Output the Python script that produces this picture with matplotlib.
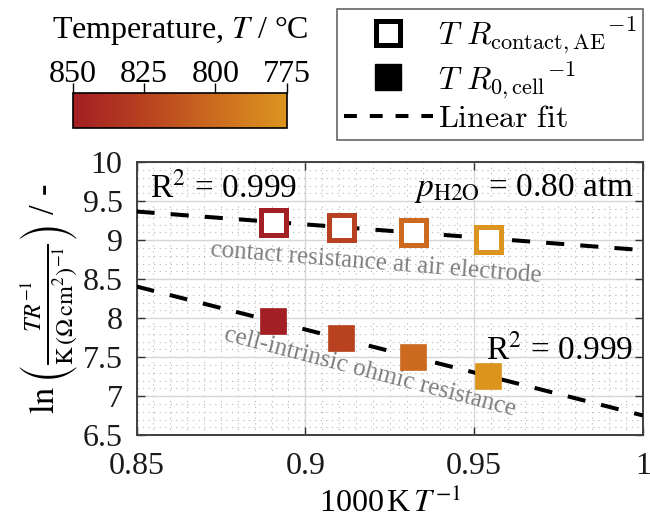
import numpy as np
import matplotlib
matplotlib.use("Agg")
import matplotlib.pyplot as plt
from matplotlib.colors import LinearSegmentedColormap, Normalize
from matplotlib.cm import ScalarMappable
from matplotlib.lines import Line2D
from matplotlib.font_manager import FontProperties
from matplotlib.ticker import MultipleLocator, FuncFormatter

plt.rcParams["font.family"] = ["Liberation Serif", "DejaVu Serif"]
plt.rcParams["mathtext.fontset"] = "stix"

# Operating temperatures and measured quantities
temperatures_C = [850, 825, 800, 775]
ln_TR_contact = [9.23, 9.17, 9.10, 9.02]
ln_TR_ohmic = [7.96, 7.74, 7.50, 7.26]
cbar_ticks = [850, 825, 800, 775]
x_ticks = [0.85, 0.9, 0.95, 1.0]
y_ticks = [6.5, 7, 7.5, 8, 8.5, 9, 9.5, 10]

inv_T = 1000.0 / (np.array(temperatures_C) + 273.15)

cmap = LinearSegmentedColormap.from_list(
    "temp", ["#db941e", "#cc6b1f", "#b8411f", "#a21f24"])
norm = Normalize(vmin=775, vmax=850)
colors = [cmap(norm(t)) for t in temperatures_C]

fs = 23
fig = plt.figure(figsize=(6.5, 5.23), dpi=100)
ax = fig.add_axes([0.210, 0.168, 0.779, 0.522])

# Linear fits over the full axis range
xfit = np.array([0.85, 1.0])
dash = (4.5, 4.0)
for yvals in (ln_TR_contact, ln_TR_ohmic):
    p = np.polyfit(inv_T, yvals, 1)
    ax.plot(xfit, np.polyval(p, xfit), color="black", lw=2.9,
            dashes=dash, zorder=3)

for xi, yi, c in zip(inv_T, ln_TR_contact, colors):
    ax.plot(xi, yi, marker="s", ms=18, mfc="white", mec=c, mew=3.6,
            ls="none", zorder=4)
for xi, yi, c in zip(inv_T, ln_TR_ohmic, colors):
    ax.plot(xi, yi, marker="s", ms=19, mfc=c, mec=c, mew=0.5,
            ls="none", zorder=4)

ax.set_xlim(0.85, 1.0)
ax.set_ylim(6.5, 10)
ax.set_xticks(x_ticks)
ax.set_yticks(y_ticks)
ax.xaxis.set_major_formatter(FuncFormatter(lambda v, _: f"{v:g}"))
ax.yaxis.set_major_formatter(FuncFormatter(lambda v, _: f"{v:g}"))
ax.xaxis.set_minor_locator(MultipleLocator(0.005))
ax.yaxis.set_minor_locator(MultipleLocator(0.1))
ax.grid(which="major", color="#d6d6d6", lw=1.0, ls="-", zorder=0)
ax.grid(which="minor", color="#b5b5b5", lw=0.8, ls=(0, (1, 4)), zorder=0)
ax.set_axisbelow(True)
ax.tick_params(which="major", direction="in", length=6, width=1.0,
               top=True, right=True, labelsize=fs, colors="#333333",
               labelcolor="#1a1a1a")
ax.tick_params(axis="y", which="major", pad=10)
ax.tick_params(axis="x", which="major", pad=12)
ax.tick_params(which="minor", length=0)
for s in ax.spines.values():
    s.set_color("#404040")
    s.set_linewidth(1.4)

ax.set_xlabel(r"1000$\,$K$\,T^{-1}$", fontsize=fs, labelpad=5)
ax.set_ylabel(r"$\ln\left(\frac{TR^{-1}}{\mathrm{K}\,(\Omega\,\mathrm{cm}^2)^{-1}}\right)$ / -",
              fontsize=25, labelpad=2)

ax.text(0.854, 9.67, r"R$^2$ = 0.999", fontsize=24, ha="left", va="center")
ax.text(0.9975, 9.66, r"$p_{\mathrm{H2O}}$ = 0.80 atm", fontsize=24,
        ha="right", va="center")
ax.text(0.9535, 7.59, r"R$^2$ = 0.999", fontsize=24, ha="left", va="center")
ax.text(0.921, 8.71, "contact resistance at air electrode", fontsize=18,
        color="#7f7f7f", ha="center", va="center", rotation=-4.5,
        rotation_mode="anchor")
ax.text(0.9192, 7.31, "cell-intrinsic ohmic resistance", fontsize=18,
        color="#7f7f7f", ha="center", va="center", rotation=-14.6,
        rotation_mode="anchor")

# Temperature colour bar
cax = fig.add_axes([0.112, 0.755, 0.329, 0.067])
cb = fig.colorbar(ScalarMappable(norm=norm, cmap=cmap), cax=cax,
                  orientation="horizontal")
cax.invert_xaxis()
cb.set_ticks(cbar_ticks)
cax.xaxis.set_ticks_position("top")
cax.tick_params(direction="out", length=7, width=1.0, labelsize=fs, pad=-4)
cb.outline.set_linewidth(1.2)
fig.text(0.277, 0.927, r"Temperature, $T$ / °C", fontsize=fs,
         ha="center", va="baseline")

# Legend
handles = [
    Line2D([], [], marker="s", ms=17, mfc="white", mec="black", mew=3.6,
           ls="none"),
    Line2D([], [], marker="s", ms=19, mfc="black", mec="black", ls="none"),
    Line2D([], [], color="black", lw=2.9, dashes=(3.2, 3.2)),
]
labels = [r"$T\ R_{\mathrm{contact,AE}}{}^{-1}$",
          r"$T\ R_{0,\mathrm{cell}}{}^{-1}$",
          r"$\mathrm{Linear\ fit}$"]
leg = fig.legend(handles, labels, loc="upper right",
                 bbox_to_anchor=(0.989, 0.983),
                 prop=FontProperties(family="Liberation Serif", size=fs,
                                     math_fontfamily="cm"),
                 frameon=True, fancybox=False, edgecolor="#404040",
                 handlelength=2.8, handletextpad=0.15, labelspacing=0.12,
                 borderpad=0.2, borderaxespad=0)
leg.get_frame().set_linewidth(1.2)

fig.savefig("out.png", dpi=100)
